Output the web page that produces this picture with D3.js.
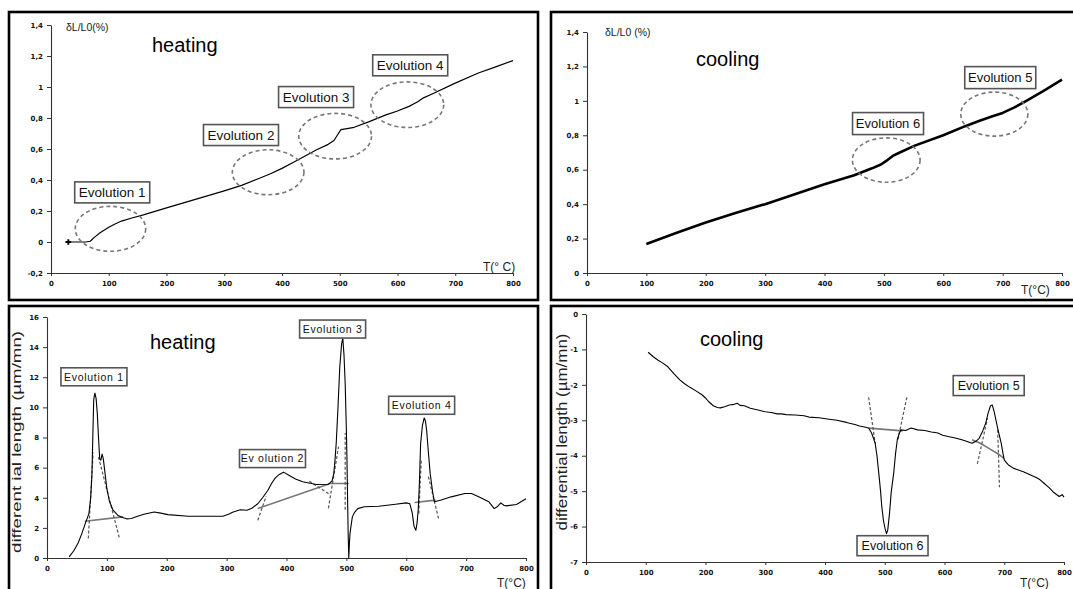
<!DOCTYPE html>
<html>
<head>
<meta charset="utf-8">
<script src="https://cdn.jsdelivr.net/npm/d3@7"></script>
<style>
  body { margin: 0; background: #fff; }
  svg { display: block; font-family: "Liberation Sans", Arial, sans-serif; }
</style>
</head>
<body>
<svg id="chart" width="1073" height="589"></svg>
<script>
// tick values
var tempTicks = [0, 100, 200, 300, 400, 500, 600, 700, 800];
var heatDilTicks = [-0.2, 0, 0.2, 0.4, 0.6, 0.8, 1, 1.2, 1.4];
var coolDilTicks = [0, 0.2, 0.4, 0.6, 0.8, 1, 1.2, 1.4];
var heatDiffTicks = [0, 2, 4, 6, 8, 10, 12, 14, 16];
var coolDiffTicks = [0, -1, -2, -3, -4, -5, -6, -7];

// dL/L0 (%) on heating  [T, value]
var heatDil = [[30,0],[45,0],[60,0],[68,0.005],[75,0.03],[85,0.06],[100,0.095],[110,0.115],[122,0.135],
  [140,0.155],[160,0.175],[200,0.22],[250,0.275],[300,0.33],[330,0.365],[360,0.41],[380,0.44],[400,0.475],
  [420,0.515],[440,0.555],[460,0.595],[480,0.63],[490,0.655],[496,0.69],[502,0.725],[510,0.73],[525,0.74],
  [550,0.775],[580,0.82],[600,0.845],[620,0.875],[635,0.905],[645,0.93],[660,0.955],[700,1.025],[740,1.09],
  [770,1.13],[800,1.17]];

// dL/L0 (%) on cooling
var coolDil = [[100,0.168],[150,0.232],[200,0.293],[250,0.348],[300,0.40],[350,0.457],[400,0.515],[450,0.568],
  [480,0.608],[495,0.63],[506,0.656],[515,0.68],[525,0.697],[552,0.74],[600,0.80],[637,0.853],[660,0.883],
  [683,0.911],[700,0.93],[720,0.962],[740,1.0],[769,1.058],[800,1.123]];

// differential length (um/mn) on heating
var heatDiff = [[37,0.07],[45,0.5],[52,1.0],[58,1.6],[64,2.3],[70,2.95],[73,4],[75,5.5],[76.5,8],[78,10.5],
  [80,10.95],[82,10.6],[84,9.6],[86,8],[88,6.6],[90,6.5],[92,6.9],[94,6.6],[97,5.6],[100,4.6],[104,3.8],
  [110,3.2],[118,2.84],[125,2.7],[133,2.6],[141,2.62],[150,2.75],[162,2.9],[179,3.05],[190,2.98],[202,2.88],
  [236,2.77],[294,2.77],[303,2.9],[311,3.05],[323,3.2],[334,3.17],[342,3.3],[352,3.6],[360,4.0],[369,4.5],
  [375,4.95],[381,5.3],[388,5.55],[395,5.7],[404,5.5],[415,5.25],[427,5.06],[450,4.88],[470,4.9],[476,5.1],
  [479,5.6],[481,6.5],[483,7.6],[486,10],[489,12.7],[492,14.2],[494,14.6],[496,13.5],[498,11.6],[500,8.5],
  [501,6.5],[502,4],[503,1.6],[504,0],[505,0.9],[506,1.6],[508,2.2],[510,2.73],[514,3.05],[519,3.28],
  [530,3.4],[554,3.44],[582,3.57],[600,3.66],[606,3.6],[610,3],[613,2.1],[616,1.84],[618,2.3],[620,3.2],
  [622,5],[624,7.6],[627,8.8],[630,9.3],[632,9.1],[634,8.5],[637,7],[640,5.6],[644,4.4],[647,3.73],
  [657,3.84],[675,4.06],[698,4.28],[709,4.28],[721,4.06],[738,3.73],[747,3.28],[753,3.44],[758,3.66],
  [763,3.5],[767,3.46],[784,3.55],[800,3.93]];

// differential length (um/mn) on cooling
var coolDiff = [[104,-1.08],[112,-1.2],[120,-1.30],[128,-1.38],[137,-1.49],[147,-1.68],[157,-1.86],
  [165,-1.97],[174,-2.07],[184,-2.17],[194,-2.28],[200,-2.37],[205,-2.47],[213,-2.59],[220,-2.64],
  [225,-2.65],[232,-2.62],[240,-2.57],[248,-2.55],[253,-2.52],[258,-2.58],[265,-2.59],[275,-2.66],
  [288,-2.71],[300,-2.76],[310,-2.78],[320,-2.82],[327,-2.82],[335,-2.84],[350,-2.85],[365,-2.87],
  [373,-2.91],[390,-2.93],[407,-2.97],[420,-3.0],[436,-3.06],[450,-3.12],[458,-3.16],[466,-3.19],
  [473,-3.22],[478,-3.36],[481,-3.5],[484,-3.65],[487,-4.0],[490,-4.49],[493,-5.0],[495,-5.43],
  [498,-5.85],[501,-6.09],[503,-6.2],[505,-6.1],[508,-5.62],[511,-5.0],[515,-4.49],[518,-3.95],
  [521,-3.55],[524,-3.38],[527,-3.27],[535,-3.29],[544,-3.22],[555,-3.27],[567,-3.29],[578,-3.33],
  [589,-3.36],[597,-3.42],[606,-3.46],[618,-3.5],[629,-3.55],[638,-3.6],[646,-3.65],[652,-3.6],
  [658,-3.51],[664,-3.3],[669,-3.08],[673,-2.8],[677,-2.59],[680,-2.57],[683,-2.75],[686,-2.99],
  [690,-3.3],[695,-3.65],[698,-3.95],[700,-4.12],[704,-4.2],[707,-4.26],[715,-4.35],[720,-4.38],
  [732,-4.45],[745,-4.55],[755,-4.63],[760,-4.68],[766,-4.77],[775,-4.9],[783,-5.04],[792,-5.15],
  [797,-5.1],[800,-5.17]];

// construction lines (baselines solid, tangents dashed)
var heatDiffBaselines = [[[63,2.44],[127,2.73]], [[352,3.28],[473,4.95],[504,4.95]], [[614,3.68],[649,3.84]]];
var heatDiffTangents = [[[69,1.3],[77,7.0]], [[86,6.7],[121,1.3]], [[352,2.5],[366,4.1]], [[438,5.1],[473,4.2]],
  [[470,3.3],[487,7.4]], [[498,3.2],[498,8.3]], [[621,2.95],[625,6.5]], [[637,5.4],[654,2.6]]];
var coolDiffBaselines = [[[473,-3.22],[530,-3.30]], [[646,-3.55],[660,-3.65],[675,-3.8],[690,-3.95],[700,-4.08]]];
var coolDiffTangents = [[[473,-2.35],[484,-3.65]], [[537,-2.35],[522,-3.55]], [[655,-4.23],[672,-2.94]],
  [[689,-3.27],[692,-4.89]]];

// dashed rings [cx, cy, rx (degC), ry (value)]
var heatDilRings = [[103,0.085,61,0.145],[376,0.45,62,0.145],[492,0.683,63,0.147],[617,0.886,63,0.147]];
var coolDilRings = [[504,0.656,57,0.129],[686,0.923,56.5,0.128]];

// note boxes [text, T, value]
var heatDilNotes = [['Evolution 1',106,0.32],['Evolution 2',329,0.69],['Evolution 3',459,0.935],['Evolution 4',622,1.14]];
var coolDilNotes = [['Evolution 6',507,0.868],['Evolution 5',696,1.135]];
var heatDiffNotes = [['Evolution 1',78.4,12.03],['Ev olution 2',376.6,6.6],['Evolution 3',477,15.2],['Evolution 4',625.7,10.14]];
var coolDiffNotes = [['Evolution 5',674,-2.02],['Evolution 6',513,-6.54]];

var svg = d3.select('#chart');

var commaFmt = function(d) { return String(+d.toFixed(1)).replace('.', ','); };

function drawPanel(p) {
  var g = svg.append('g');
  // frame
  g.append('rect')
    .attr('x', p.box[0]).attr('y', p.box[1])
    .attr('width', p.box[2]).attr('height', p.box[3])
    .attr('fill', 'none').attr('stroke', '#000').attr('stroke-width', 2.6);

  var x = d3.scaleLinear().domain([0, 800]).range(p.xr);
  var y = d3.scaleLinear().domain(p.yd).range(p.yr);

  var xAxis = g.append('g')
    .attr('transform', 'translate(0,' + p.yr[0] + ')')
    .call(d3.axisBottom(x).tickValues(tempTicks).tickSize(3).tickSizeOuter(0).tickPadding(5));
  var yAxis = g.append('g')
    .attr('transform', 'translate(' + p.xr[0] + ',0)')
    .call(d3.axisLeft(y).tickValues(p.yTicks).tickSize(4).tickSizeOuter(0).tickPadding(4).tickFormat(commaFmt));
  [xAxis, yAxis].forEach(function(a) {
    a.selectAll('path.domain').attr('stroke', '#333').attr('stroke-width', 1.1);
    a.selectAll('line').attr('stroke', '#333');
    a.selectAll('text').attr('font-size', 7).attr('font-weight', 'bold').attr('fill', '#111')
      .attr('font-family', '"DejaVu Sans", sans-serif');
  });

  var line = d3.line().x(function(d) { return x(d[0]); }).y(function(d) { return y(d[1]); });

  (p.baselines || []).forEach(function(s) {
    g.append('path').attr('d', line(s)).attr('fill', 'none')
      .attr('stroke', '#777').attr('stroke-width', 1.6);
  });
  (p.tangents || []).forEach(function(s) {
    g.append('path').attr('d', line(s)).attr('fill', 'none')
      .attr('stroke', '#555').attr('stroke-width', 1.2).attr('stroke-dasharray', '3,2');
  });

  g.append('path').attr('d', line(p.data)).attr('fill', 'none')
    .attr('stroke', '#000').attr('stroke-width', p.lw).attr('stroke-linejoin', 'round');

  if (p.marker) {
    var m = p.data[0];
    g.append('path').attr('d', d3.symbol(d3.symbolCross, 18)())
      .attr('transform', 'translate(' + x(m[0]) + ',' + y(m[1]) + ')').attr('fill', '#000');
  }

  (p.rings || []).forEach(function(r) {
    g.append('ellipse')
      .attr('cx', x(r[0])).attr('cy', y(r[1]))
      .attr('rx', x(r[2]) - x(0)).attr('ry', Math.abs(y(r[3]) - y(0)))
      .attr('fill', 'none').attr('stroke', '#777').attr('stroke-width', 1.6)
      .attr('stroke-dasharray', '4,3');
  });

  (p.notes || []).forEach(function(n) {
    var cx = x(n[1]), cy = y(n[2]);
    var w = p.noteW, h = p.noteH;
    g.append('rect')
      .attr('x', cx - w / 2).attr('y', cy - h / 2).attr('width', w).attr('height', h)
      .attr('fill', '#fff').attr('stroke', '#555').attr('stroke-width', 1.6);
    g.append('text').text(n[0])
      .attr('x', cx).attr('y', cy + p.noteFont * 0.36)
      .attr('text-anchor', 'middle').attr('font-size', p.noteFont)
      .attr('letter-spacing', p.noteSpacing || 0).attr('fill', '#111');
  });

  // titles
  g.append('text').text(p.title).attr('x', p.titlePos[0]).attr('y', p.titlePos[1])
    .attr('font-size', 20).attr('fill', '#000');
  g.append('text').text(p.unitX).attr('x', p.unitXPos[0]).attr('y', p.unitXPos[1])
    .attr('font-size', 12).attr('fill', '#222');
  if (p.yLabel) {
    g.append('text').text(p.yLabel)
      .attr('x', p.yLabelPos[0]).attr('y', p.yLabelPos[1])
      .attr('font-size', p.yLabelSize).attr('fill', '#222');
  }
  if (p.yRot) {
    g.append('text').text(p.yRot)
      .attr('transform', 'translate(' + p.yRotPos[0] + ',' + p.yRotPos[1] + ') rotate(-90)')
      .attr('text-anchor', 'middle').attr('font-size', p.yRotSize).attr('fill', '#222')
      .attr('textLength', p.yRotLen).attr('lengthAdjust', 'spacingAndGlyphs');
  }
}

drawPanel({
  box: [9, 12, 529, 288], xr: [51, 513], yd: [-0.2, 1.4], yr: [273, 25], yTicks: heatDilTicks,
  data: heatDil, lw: 1.2, marker: true, rings: heatDilRings, notes: heatDilNotes,
  noteFont: 13.5, noteW: 75, noteH: 21,
  title: 'heating', titlePos: [152, 52], unitX: 'T(° C)', unitXPos: [483, 271],
  yLabel: 'δL/L0(%)', yLabelPos: [66, 31], yLabelSize: 10.5
});

drawPanel({
  box: [551, 12, 540, 288], xr: [587, 1062], yd: [0, 1.4], yr: [273, 32], yTicks: coolDilTicks,
  data: coolDil, lw: 2.6, rings: coolDilRings, notes: coolDilNotes,
  noteFont: 13, noteW: 71, noteH: 22,
  title: 'cooling', titlePos: [696, 66], unitX: 'T(°C)', unitXPos: [1021, 294],
  yLabel: 'δL/L0 (%)', yLabelPos: [605, 36], yLabelSize: 10.5
});

drawPanel({
  box: [9, 306, 529, 300], xr: [47, 526], yd: [0, 16], yr: [558, 317], yTicks: heatDiffTicks,
  data: heatDiff, lw: 1.1, baselines: heatDiffBaselines, tangents: heatDiffTangents, notes: heatDiffNotes,
  noteFont: 10.5, noteSpacing: 0.7, noteW: 66, noteH: 18,
  title: 'heating', titlePos: [150, 349], unitX: 'T(°C)', unitXPos: [497, 587],
  yRot: 'different ial length (µm/mn)', yRotPos: [21, 442], yRotLen: 222, yRotSize: 13
});

drawPanel({
  box: [551, 306, 540, 300], xr: [586, 1064], yd: [-7, 0], yr: [562, 314], yTicks: coolDiffTicks,
  data: coolDiff, lw: 1.1, baselines: coolDiffBaselines, tangents: coolDiffTangents, notes: coolDiffNotes,
  noteFont: 12.5, noteW: 71, noteH: 20,
  title: 'cooling', titlePos: [700, 346], unitX: 'T(°C)', unitXPos: [1020, 587],
  yRot: 'differential length (µm/mn)', yRotPos: [567, 432], yRotLen: 197, yRotSize: 14
});
</script>
</body>
</html>
